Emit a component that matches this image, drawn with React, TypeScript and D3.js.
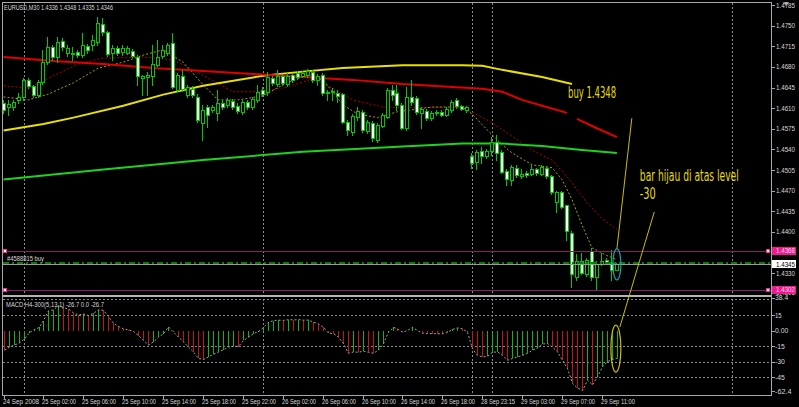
import React from 'react';
import * as d3 from 'd3';

const W = 799;
const H = 407;

// ---------- data ----------
const opens = [1.4619,1.4612,1.4612,1.4624,1.4629,1.4658,1.4648,1.4633,1.4655,1.4688,
1.4714,1.4697,1.4724,1.4704,1.4704,1.4705,1.4700,1.4716,1.4717,1.4722,
1.4753,1.4739,1.4704,1.4712,1.4705,1.4704,1.4707,1.4697,1.4661,1.4663,
1.4665,1.4683,1.4699,1.4704,1.4721,1.4641,1.4665,1.4633,1.4643,1.4629,
1.4585,1.4612,1.4607,1.4602,1.4619,1.4616,1.4622,1.4614,1.4604,1.4621,
1.4612,1.4624,1.4641,1.4638,1.4661,1.4651,1.4665,1.4651,1.4666,1.4670,
1.4665,1.4666,1.4672,1.4658,1.4666,1.4636,1.4638,1.4636,1.4634,1.4587,
1.4570,1.4595,1.4604,1.4572,1.4585,1.4556,1.4580,1.4595,1.4641,1.4636,
1.4616,1.4577,1.4629,1.4627,1.4602,1.4605,1.4594,1.4602,1.4604,1.4599,
1.4607,1.4624,1.4614,1.4607,1.4529,1.4519,1.4538,1.4529,1.4538,1.4553,
1.4536,1.4504,1.4489,1.4509,1.4495,1.4500,1.4499,1.4506,1.4499,1.4509,
1.4495,1.4451,1.4468,1.4445,1.4399,1.4324,1.4351,1.4328,1.4368,1.4324,
1.4346,1.4353,1.4348,1.4336];

const highs = [1.4624,1.4624,1.4624,1.4636,1.4661,1.4661,1.4649,1.4658,1.4709,1.4731,
1.4717,1.4731,1.4729,1.4717,1.4714,1.4709,1.4738,1.4719,1.4734,1.4765,
1.4763,1.4741,1.4717,1.4716,1.4717,1.4716,1.4711,1.4700,1.4666,1.4671,
1.4717,1.4726,1.4717,1.4721,1.4738,1.4670,1.4675,1.4650,1.4648,1.4634,
1.4616,1.4616,1.4616,1.4641,1.4624,1.4627,1.4626,1.4619,1.4624,1.4624,
1.4629,1.4650,1.4646,1.4672,1.4665,1.4675,1.4668,1.4670,1.4670,1.4673,
1.4673,1.4677,1.4675,1.4668,1.4670,1.4641,1.4644,1.4641,1.4636,1.4590,
1.4600,1.4612,1.4607,1.4590,1.4588,1.4585,1.4602,1.4644,1.4650,1.4650,
1.4619,1.4646,1.4658,1.4631,1.4612,1.4609,1.4605,1.4607,1.4607,1.4612,
1.4624,1.4627,1.4616,1.4614,1.4534,1.4539,1.4545,1.4541,1.4561,1.4565,
1.4539,1.4507,1.4514,1.4514,1.4506,1.4503,1.4514,1.4509,1.4514,1.4512,
1.4497,1.4470,1.4470,1.4446,1.4402,1.4362,1.4365,1.4356,1.4373,1.4350,
1.4365,1.4356,1.4370,1.4348];

const lows = [1.4602,1.4599,1.4607,1.4619,1.4624,1.4644,1.4629,1.4629,1.4651,1.4685,
1.4692,1.4688,1.4709,1.4699,1.4692,1.4697,1.4697,1.4704,1.4709,1.4717,
1.4734,1.4699,1.4692,1.4701,1.4700,1.4702,1.4697,1.4650,1.4633,1.4633,
1.4650,1.4682,1.4695,1.4700,1.4644,1.4639,1.4639,1.4629,1.4629,1.4587,
1.4556,1.4578,1.4604,1.4590,1.4609,1.4612,1.4609,1.4602,1.4600,1.4609,
1.4609,1.4621,1.4631,1.4633,1.4650,1.4648,1.4650,1.4648,1.4655,1.4660,
1.4663,1.4663,1.4655,1.4650,1.4633,1.4624,1.4624,1.4621,1.4585,1.4565,
1.4565,1.4590,1.4570,1.4568,1.4555,1.4553,1.4578,1.4594,1.4624,1.4607,
1.4575,1.4573,1.4616,1.4600,1.4577,1.4590,1.4590,1.4599,1.4597,1.4597,
1.4604,1.4611,1.4607,1.4604,1.4509,1.4506,1.4517,1.4526,1.4531,1.4522,
1.4500,1.4480,1.4480,1.4494,1.4492,1.4494,1.4497,1.4497,1.4497,1.4492,
1.4465,1.4434,1.4440,1.4387,1.4307,1.4319,1.4328,1.4326,1.4319,1.4302,
1.4344,1.4346,1.4319,1.4335];

const closes = [1.4607,1.4617,1.4621,1.4629,1.4658,1.4648,1.4633,1.4655,1.4688,1.4714,
1.4697,1.4722,1.4714,1.4712,1.4703,1.4700,1.4717,1.4709,1.4726,1.4755,
1.4739,1.4702,1.4712,1.4704,1.4712,1.4712,1.4699,1.4665,1.4665,1.4666,
1.4685,1.4697,1.4709,1.4717,1.4646,1.4666,1.4643,1.4646,1.4633,1.4590,
1.4607,1.4599,1.4612,1.4619,1.4612,1.4624,1.4612,1.4605,1.4621,1.4612,
1.4626,1.4638,1.4634,1.4663,1.4653,1.4665,1.4653,1.4665,1.4658,1.4663,
1.4670,1.4673,1.4658,1.4665,1.4636,1.4638,1.4639,1.4631,1.4587,1.4573,
1.4597,1.4605,1.4573,1.4587,1.4560,1.4582,1.4599,1.4641,1.4633,1.4616,
1.4577,1.4629,1.4621,1.4604,1.4609,1.4594,1.4602,1.4604,1.4599,1.4609,
1.4621,1.4614,1.4609,1.4612,1.4517,1.4536,1.4529,1.4538,1.4553,1.4534,
1.4502,1.4490,1.4511,1.4497,1.4499,1.4497,1.4507,1.4500,1.4511,1.4495,
1.4468,1.4468,1.4443,1.4402,1.4328,1.4350,1.4331,1.4353,1.4324,1.4345,
1.4351,1.4348,1.4336,1.4346];

const macdValues = [-19,-16,-14,-12,-8,-2,1,3,9.6,19,
20,24,22,20.7,17,15,16,14.5,16.6,20,
19.5,13.4,7,4,1.6,0.6,-1,-4.8,-9.6,-14,
-11,-6.4,-3,3.5,-1.6,-6.4,-11,-16,-20.7,-27,
-28,-25.5,-23,-20.7,-18.5,-16,-15,-15.5,-9.6,-6.4,
-3,-1,3,8,9.6,10,9.8,10.5,10.3,10.5,
10,10.2,8,6.4,3,-2.5,-3,-6.4,-12.8,-22,
-20.7,-21,-20,-21,-22,-19,-12.8,-1.6,3,1.6,
-1.6,0,3,0,-2.5,-2.8,-3,-3.1,-3.2,-1.9,
1,2.6,1.6,-1.6,-17.6,-24,-25.5,-25,-21,-20.7,
-24,-28.7,-27,-25.5,-24,-22,-19,-17,-13,-12.6,
-16,-20.7,-28.7,-36.7,-51,-55.5,-58,-48,-52.6,-44.7,
-35,-30,-28,-26.7];

// moving averages: [bar index, price]
const maRed: [number, number | null][] = [[0,1.4697],[10,1.4690],[20,1.4685],[30,1.4678],[40,1.4673],[50,1.4668],[60,1.4663],[70,1.4658],[80,1.4651],[90,1.4646],[96,1.4643],[100,1.4638],[104,1.4624],[108,1.4614],[113,1.4602],[114,null],[115,1.4592],[119,1.4576],[123,1.4561]];
const maYellow: [number, number][] = [[0,1.4572],[8,1.4583],[14,1.4594],[24,1.4614],[32,1.4633],[40,1.4648],[52,1.4665],[60,1.4672],[68,1.4678],[80,1.4683],[92,1.4683],[96,1.4682],[100,1.4675],[108,1.4663],[114,1.4651]];
const maGreen: [number, number][] = [[0,1.4489],[20,1.4506],[40,1.4522],[60,1.4536],[80,1.4545],[92,1.4550],[100,1.4550],[108,1.4546],[116,1.4539],[123,1.4534]];
const maDotRed: [number, number][] = [[0,1.4648],[5,1.4644],[10,1.4665],[15,1.4685],[20,1.4695],[28,1.4697],[34,1.4692],[40,1.4666],[46,1.4638],[52,1.4638],[57,1.4646],[62,1.4660],[66,1.4644],[70,1.4624],[76,1.4612],[80,1.4611],[86,1.4611],[92,1.4611],[95,1.4599],[98,1.4585],[101,1.4568],[106,1.4539],[110,1.4522],[113,1.4494],[117,1.4450],[120,1.4423],[123,1.4404]];
const maDotYellow: [number, number][] = [[0,1.4629],[5,1.4624],[9,1.4634],[14,1.4653],[19,1.4678],[24,1.4688],[28,1.4700],[32,1.4709],[36,1.4688],[40,1.4650],[43,1.4624],[47,1.4624],[52,1.4631],[57,1.4654],[61,1.4666],[64,1.4658],[66,1.4638],[68,1.4616],[71,1.4600],[75,1.4594],[79,1.4604],[86,1.4612],[92,1.4612],[94,1.4600],[97,1.4573],[100,1.4548],[102,1.4534],[106,1.4514],[110,1.4509],[112,1.4489],[114,1.4455],[116,1.4412],[118,1.4373],[121,1.4360],[123,1.4353]];

const timeLabelBars = [0,8,16,24,32,40,48,56,64,72,80,88,96,104,112,120];
const timeLabels = ['24 Sep 2008','25 Sep 02:00','25 Sep 06:00','25 Sep 10:00','25 Sep 14:00','25 Sep 18:00','25 Sep 22:00','26 Sep 02:00','26 Sep 06:00','26 Sep 10:00','26 Sep 14:00','26 Sep 18:00','28 Sep 23:15','29 Sep 03:00','29 Sep 07:00','29 Sep 11:00'];
const separatorBars = [4,52,94,98,146];
const priceTicks = [1.4785,1.4750,1.4715,1.4680,1.4645,1.4610,1.4575,1.4540,1.4505,1.4470,1.4435,1.4400,1.4330,1.4295];
const macdTicks = [38.4,15,0,-15,-30,-45,-62.4];
const macdTickLabels = ['38.4','15','0.00','-15','-30','-45','-62.4'];
const macdLevels = [30,15,-15,-30,-45];

const takeProfit = 1.4368;
const stopLoss = 1.4302;
const orderPrice = 1.4348;
const bidPrice = 1.4345;

const headerText = 'EURUSD,M30  1.4336 1.4348 1.4335 1.4346';
const macdHeader = 'MACD H4-300(5,13,1) -26.7 0.0 -26.7';
const orderLabel = '#4588815 buy';

export default function App() {
  const x = d3.scaleLinear().domain([0, 146]).range([3.6, 3.6 + 146 * 4.986]);
  const yP = d3.scaleLinear().domain([1.4295, 1.4785]).range([293.9, 5]);
  const yM = d3.scaleLinear().domain([-62.4, 38.4]).range([395.1, 290.8]);
  const cx = (i: number) => Math.round(x(i));
  const font = "'Liberation Sans', Arial, sans-serif";
  const noteFont = "'DejaVu Sans Condensed', 'DejaVu Sans', sans-serif";
  const CANDLE = '#00c800';
  const GRID = '#8a8a8a';
  const AXIS = '#a8a8a8';
  const TXT = '#d8d8d8';
  const NOTE = '#e6dc00';

  const priceLine = d3.line<[number, number | null]>()
    .defined((d) => d[1] != null)
    .x((d) => x(d[0]))
    .y((d) => yP(d[1] as number));
  const macdLine = d3.line<number>().x((_, i) => cx(i) + 0.5).y((d) => yM(d));

  const zeroY = Math.round(yM(0));

  const notes = [
    { text: 'buy 1.4348', bar: 113.2, price: 1.4627, len: 48 },
    { text: 'bar hijau di atas level', bar: 127.6, price: 1.4486, len: 99 },
    { text: '-30', bar: 127.6, price: 1.4456, len: 16 },
  ];

  return (
    <svg width={W} height={H} style={{ position: 'absolute', left: 0, top: 0, display: 'block', background: '#000' }}>
      <defs>
        <clipPath id="pclip"><rect x={3} y={3} width={768} height={291} /></clipPath>
        <clipPath id="mclip"><rect x={3} y={298} width={768} height={97} /></clipPath>
      </defs>
      <rect x={0} y={0} width={W} height={H} fill="#000" />

      {/* period separators */}
      {separatorBars.map((b) => (
        <line key={'s' + b} x1={cx(b) + 0.5} x2={cx(b) + 0.5} y1={3} y2={395} stroke={GRID} strokeDasharray="2,2" shapeRendering="crispEdges" />
      ))}

      {/* price panel */}
      <g clipPath="url(#pclip)">
        <path d={priceLine(maDotRed as any) || ''} fill="none" stroke="#b00000" strokeWidth={1} strokeDasharray="2,2" />
        <path d={priceLine(maDotYellow as any) || ''} fill="none" stroke="#a8a000" strokeWidth={1} strokeDasharray="2,2" />
        <path d={priceLine(maGreen as any) || ''} fill="none" stroke="#1ed21e" strokeWidth={2} />
        <path d={priceLine(maYellow as any) || ''} fill="none" stroke="#e8e000" strokeWidth={2} />
        <path d={priceLine(maRed) || ''} fill="none" stroke="#e00000" strokeWidth={2} />

        {opens.map((o, i) => {
          const c = closes[i];
          const h = highs[i];
          const l = lows[i];
          const xc = cx(i);
          const top = Math.round(yP(Math.max(o, c)));
          const bot = Math.round(yP(Math.min(o, c)));
          const bear = c < o;
          return (
            <g key={'c' + i}>
              <line x1={xc - 0.5} x2={xc - 0.5} y1={Math.round(yP(h))} y2={Math.round(yP(l)) + 1} stroke={CANDLE} shapeRendering="crispEdges" />
              <rect x={xc - 1.5} y={top + 0.5} width={3} height={Math.max(bot - top, 1)} fill={bear ? '#ffffff' : '#000000'} stroke={CANDLE} shapeRendering="crispEdges" />
            </g>
          );
        })}

        {/* trade lines */}
        {[takeProfit, stopLoss].map((p) => (
          <line key={'tl' + p} x1={3} x2={771} y1={Math.round(yP(p)) + 0.5} y2={Math.round(yP(p)) + 0.5} stroke="#8c1a6a" shapeRendering="crispEdges" />
        ))}
        <line x1={3} x2={771} y1={Math.round(yP(orderPrice))} y2={Math.round(yP(orderPrice))} stroke="#0b7d0b" strokeWidth={2} strokeDasharray="6,3,2,3" shapeRendering="crispEdges" />
        <line x1={3} x2={771} y1={Math.round(yP(bidPrice)) + 0.5} y2={Math.round(yP(bidPrice)) + 0.5} stroke="#9a9a9a" shapeRendering="crispEdges" />
        {[takeProfit, stopLoss].map((p) => (
          <g key={'sq' + p}>
            <rect x={3.5} y={Math.round(yP(p)) - 1.5} width={3} height={3} fill="#fff" stroke="#ff2a9a" />
            <rect x={766.5} y={Math.round(yP(p)) - 1.5} width={3} height={3} fill="#fff" stroke="#ff2a9a" />
          </g>
        ))}
        <text x={7} y={Math.round(yP(orderPrice)) - 2} fontFamily={font} fontSize={7} fill={TXT} textLength={37} lengthAdjust="spacingAndGlyphs">{orderLabel}</text>
      </g>

      {/* macd panel */}
      <g clipPath="url(#mclip)">
        {macdLevels.map((l) => (
          <line key={'lv' + l} x1={3} x2={771} y1={Math.round(yM(l)) + 0.5} y2={Math.round(yM(l)) + 0.5} stroke={GRID} strokeDasharray="2,2" shapeRendering="crispEdges" />
        ))}
        {macdValues.map((v, i) => {
          const up = i > 0 && v > macdValues[i - 1];
          return (
            <line key={'m' + i} x1={cx(i) + 0.5} x2={cx(i) + 0.5} y1={zeroY} y2={Math.round(yM(v))} stroke={up ? '#14b414' : '#c81414'} shapeRendering="crispEdges" />
          );
        })}
        <path d={macdLine(macdValues) || ''} fill="none" stroke="#a0a0a0" strokeDasharray="2,2" />
      </g>

      {/* borders */}
      <line x1={2} x2={772} y1={2.5} y2={2.5} stroke={AXIS} shapeRendering="crispEdges" />
      <line x1={2.5} x2={2.5} y1={2} y2={396} stroke={AXIS} shapeRendering="crispEdges" />
      <line x1={771.5} x2={771.5} y1={2} y2={396} stroke={AXIS} shapeRendering="crispEdges" />
      <line x1={2} x2={772} y1={395.5} y2={395.5} stroke={AXIS} shapeRendering="crispEdges" />
      <rect x={3} y={295} width={768} height={2} fill="#b4b4b4" />
      <path d="M783,2 L789,2 L786,6 Z" fill="#9a9a9a" />

      {/* headers */}
      <text x={4} y={10} fontFamily={font} fontSize={7} fill={TXT} textLength={109} lengthAdjust="spacingAndGlyphs">{headerText}</text>
      <text x={6} y={307} fontFamily={font} fontSize={7} fill={TXT} textLength={98} lengthAdjust="spacingAndGlyphs">{macdHeader}</text>

      {/* price axis */}
      {priceTicks.map((p) => {
        const yy = Math.min(yP(p), 292);
        return (
          <g key={'pt' + p}>
            <line x1={772} x2={775} y1={Math.round(yy) + 0.5} y2={Math.round(yy) + 0.5} stroke={AXIS} shapeRendering="crispEdges" />
            <text x={776} y={yy + 2.5} fontFamily={font} fontSize={7} fill={TXT} textLength={19} lengthAdjust="spacingAndGlyphs">{p.toFixed(4)}</text>
          </g>
        );
      })}
      {[takeProfit, stopLoss].map((p) => (
        <g key={'pl' + p}>
          <rect x={772} y={Math.round(yP(p)) - 4} width={24} height={8} fill="#ee1a8e" />
          <text x={776} y={yP(p) + 2.5} fontFamily={font} fontSize={7} fill="#ffd6ee" textLength={19} lengthAdjust="spacingAndGlyphs">{p.toFixed(4)}</text>
        </g>
      ))}
      <rect x={772} y={Math.round(yP(bidPrice)) - 4} width={24} height={8} fill="#ffffff" />
      <text x={776} y={yP(bidPrice) + 2.5} fontFamily={font} fontSize={7} fill="#000" textLength={19} lengthAdjust="spacingAndGlyphs">{bidPrice.toFixed(4)}</text>

      {/* macd axis */}
      {macdTicks.map((v, k) => {
        const yy = Math.min(Math.max(yM(v), 297.5), 391);
        return (
          <g key={'mt' + k}>
            <line x1={772} x2={775} y1={Math.round(yy) + 0.5} y2={Math.round(yy) + 0.5} stroke={AXIS} shapeRendering="crispEdges" />
            <text x={775} y={yy + 2.5} fontFamily={font} fontSize={7} fill={TXT} textLength={macdTickLabels[k].length * 3.3} lengthAdjust="spacingAndGlyphs">{macdTickLabels[k]}</text>
          </g>
        );
      })}

      {/* time axis */}
      {timeLabelBars.map((b, k) => (
        <g key={'tx' + b}>
          <line x1={cx(b) + 0.5} x2={cx(b) + 0.5} y1={396} y2={399} stroke={AXIS} shapeRendering="crispEdges" />
          <text x={cx(b) - 1} y={404} fontFamily={font} fontSize={7} fill={TXT} textLength={k === 0 ? 36 : 34} lengthAdjust="spacingAndGlyphs">{timeLabels[k]}</text>
        </g>
      ))}

      {/* annotations */}
      <line x1={x(126)} y1={yP(1.4593)} x2={x(123)} y2={yP(1.4371)} stroke="#c8c000" strokeWidth={1} />
      <line x1={x(130.5)} y1={yP(1.4434)} x2={x(123.6)} y2={yM(3.4)} stroke="#c8c000" strokeWidth={1} />
      <ellipse cx={x(123)} cy={yP(bidPrice)} rx={4} ry={15.5} fill="none" stroke="#1a9fb4" strokeWidth={1.2} />
      <ellipse cx={x(122.8)} cy={yM(-17.4)} rx={5} ry={23.5} fill="none" stroke="#c8c000" strokeWidth={1.2} />
      {notes.map((n) => (
        <text key={n.text} transform={`translate(${x(n.bar)},${yP(n.price)}) scale(1,1.5)`} x={0} y={0} fontFamily={noteFont} fontSize={10} fill={NOTE} textLength={n.len} lengthAdjust="spacingAndGlyphs">{n.text}</text>
      ))}
    </svg>
  );
}
